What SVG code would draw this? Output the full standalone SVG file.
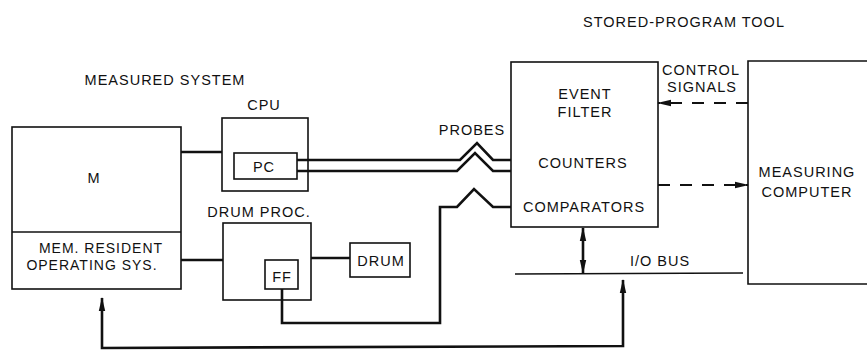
<svg xmlns="http://www.w3.org/2000/svg" width="867" height="351" viewBox="0 0 867 351">
<defs>
<style>
.box{fill:none;stroke:#111;stroke-width:1.6}
.ln{fill:none;stroke:#111;stroke-width:2.6;stroke-linejoin:miter}
.thin{fill:none;stroke:#111;stroke-width:1.3}
.dash{fill:none;stroke:#111;stroke-width:2;stroke-dasharray:12 10}
text{font-family:"Liberation Sans",Arial,sans-serif;font-size:14.5px;fill:#111;letter-spacing:1px;text-anchor:middle}
.sm{font-size:14px}
</style>
<marker id="ah" viewBox="0 0 14 8" refX="13" refY="4" markerWidth="14" markerHeight="8" markerUnits="userSpaceOnUse" orient="auto-start-reverse">
<path d="M0,0.8 L14,4 L0,7.2 Z" fill="#111"/>
</marker>
</defs>
<rect width="867" height="351" fill="#fff"/>
<text x="165" y="85">MEASURED SYSTEM</text>
<text x="684" y="27">STORED-PROGRAM TOOL</text>
<g id="M">
<rect class="box" x="12" y="127" width="169" height="162"/>
<line class="box" x1="12" y1="232" x2="181" y2="232"/>
<text x="94" y="183">M</text>
<text class="sm" x="101" y="253">MEM. RESIDENT</text>
<text class="sm" x="92" y="270">OPERATING SYS.</text>
</g>
<g id="CPU">
<rect class="box" x="222" y="118" width="86" height="73"/>
<text x="264" y="110">CPU</text>
</g>
<g id="PC">
<rect class="box" x="234" y="153" width="63" height="26"/>
<text x="264" y="172">PC</text>
</g>
<g id="DRUMPROC">
<rect class="box" x="223" y="223" width="88" height="77"/>
<text x="259" y="217">DRUM PROC.</text>
</g>
<g id="FF">
<rect class="box" x="265" y="260" width="33" height="29"/>
<text x="282" y="282">FF</text>
</g>
<g id="DRUM">
<rect class="box" x="350" y="243" width="60" height="34"/>
<text x="381" y="266">DRUM</text>
</g>
<g id="EVENTFILTER">
<rect class="box" x="511" y="62" width="147" height="165"/>
<text x="585" y="99">EVENT</text>
<text x="585" y="117">FILTER</text>
<text x="583" y="168">COUNTERS</text>
<text x="584" y="212">COMPARATORS</text>
</g>
<g id="MEASURINGCOMPUTER">
<path class="box" d="M870,61 L748,61 L748,284 L870,284"/>
<text x="807" y="177">MEASURING</text>
<text x="807" y="197">COMPUTER</text>
</g>
<g id="IOBUS">
<line class="thin" x1="515" y1="274" x2="743" y2="273"/>
<text x="660" y="266">I/O BUS</text>
</g>
<g id="connectors">
<line class="ln" x1="181" y1="152" x2="222" y2="152"/>
<line class="ln" x1="181" y1="260" x2="223" y2="260"/>
<line class="ln" x1="311" y1="258" x2="350" y2="258"/>
<polyline class="ln" points="297,160 460,160 477,143 493,160 511,160"/>
<polyline class="ln" points="297,171 457,171 475,153 493,171 511,171"/>
<polyline class="ln" points="282,289 282,323 440,323 440,207 457,207 474,189 493,207 511,207"/>
<polyline class="ln" points="102,298 102,348 623,346 623,280" marker-start="url(#ah)" marker-end="url(#ah)"/>
<line class="ln" x1="583" y1="228" x2="583" y2="273" marker-start="url(#ah)" marker-end="url(#ah)"/>
<line class="dash" x1="748" y1="103" x2="658" y2="103" marker-end="url(#ah)"/>
<line class="dash" x1="658" y1="185" x2="748" y2="185" marker-end="url(#ah)"/>
<text x="472" y="135">PROBES</text>
<text x="701" y="75">CONTROL</text>
<text x="702" y="92">SIGNALS</text>
</g>
</svg>
